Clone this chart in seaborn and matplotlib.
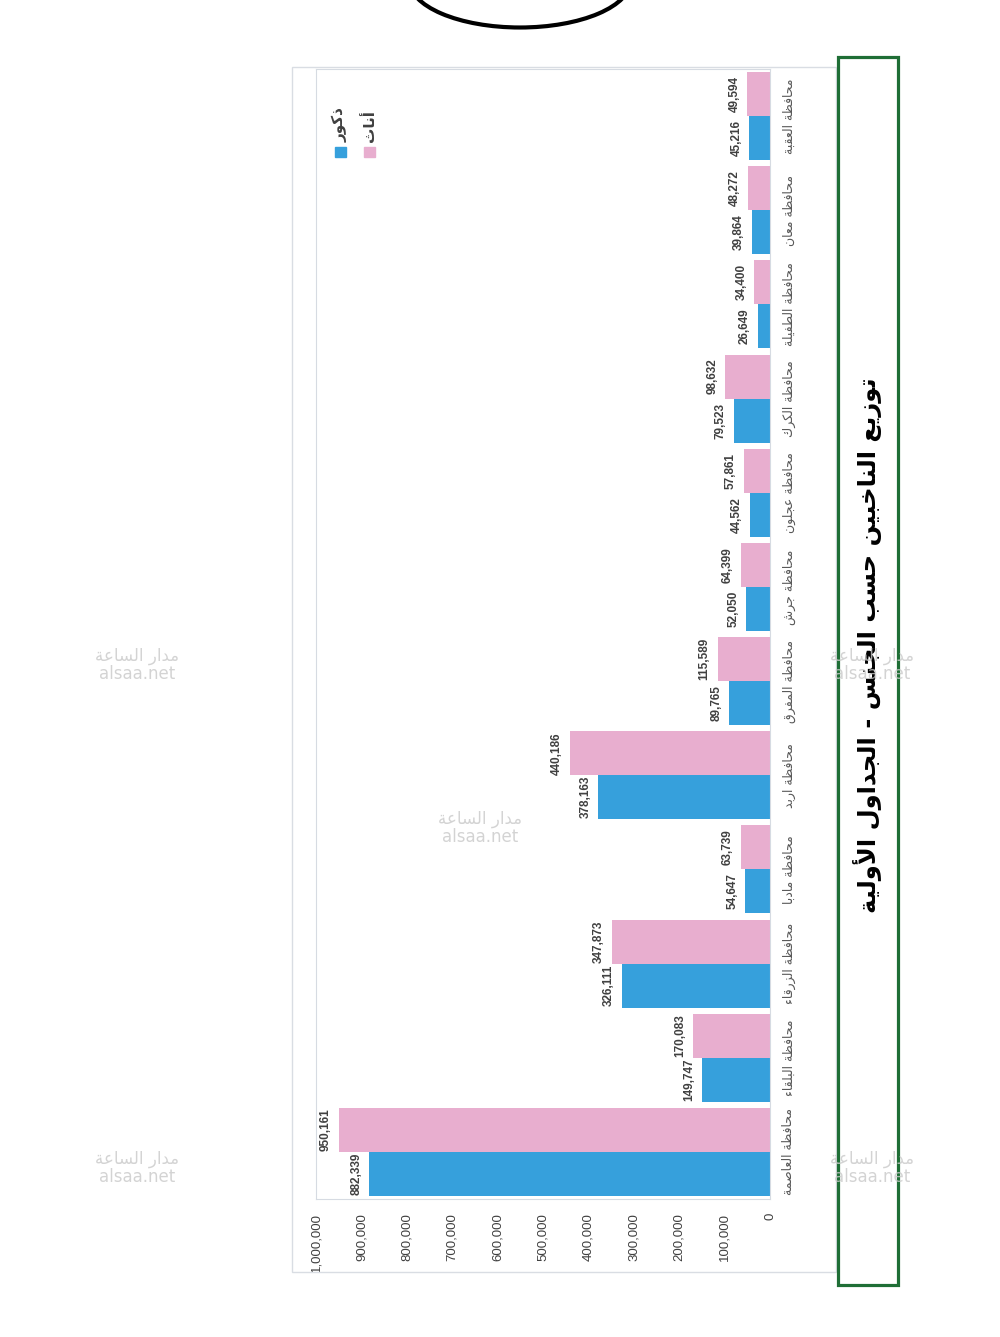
import matplotlib
matplotlib.use('Agg')
import matplotlib.pyplot as plt
from matplotlib.patches import Rectangle, Ellipse
import pandas as pd
import seaborn as sns

# data (left to right in the upright chart)
categories = ['محافظة العاصمة', 'محافظة البلقاء', 'محافظة الزرقاء', 'محافظة مادبا',
              'محافظة اربد', 'محافظة المفرق', 'محافظة جرش', 'محافظة عجلون',
              'محافظة الكرك', 'محافظة الطفيلة', 'محافظة معان', 'محافظة العقبة']
males = [882339, 149747, 326111, 54647, 378163, 89765, 52050, 44562, 79523, 26649, 39864, 45216]
females = [950161, 170083, 347873, 63739, 440186, 115589, 64399, 57861, 98632, 34400, 48272, 49594]
male_label = 'ذكور'
female_label = 'أناث'
xticks = [0, 100000, 200000, 300000, 400000, 500000, 600000, 700000, 800000, 900000, 1000000]
title = 'توزيع الناخبين حسب الجنس - الجداول الأولية'
watermark = 'مدار الساعة'

BLUE = '#36a0dc'
PINK = '#e8aecf'

# small arabic shaper: matplotlib has no shaping, so use presentation forms
FORMS = {'ء': (0xFE80, 1), 'آ': (0xFE81, 2), 'أ': (0xFE83, 2), 'ؤ': (0xFE85, 2), 'إ': (0xFE87, 2),
         'ئ': (0xFE89, 4), 'ا': (0xFE8D, 2), 'ب': (0xFE8F, 4), 'ة': (0xFE93, 2), 'ت': (0xFE95, 4),
         'ث': (0xFE99, 4), 'ج': (0xFE9D, 4), 'ح': (0xFEA1, 4), 'خ': (0xFEA5, 4), 'د': (0xFEA9, 2),
         'ذ': (0xFEAB, 2), 'ر': (0xFEAD, 2), 'ز': (0xFEAF, 2), 'س': (0xFEB1, 4), 'ش': (0xFEB5, 4),
         'ص': (0xFEB9, 4), 'ض': (0xFEBD, 4), 'ط': (0xFEC1, 4), 'ظ': (0xFEC5, 4), 'ع': (0xFEC9, 4),
         'غ': (0xFECD, 4), 'ف': (0xFED1, 4), 'ق': (0xFED5, 4), 'ك': (0xFED9, 4), 'ل': (0xFEDD, 4),
         'م': (0xFEE1, 4), 'ن': (0xFEE5, 4), 'ه': (0xFEE9, 4), 'و': (0xFEED, 2), 'ى': (0xFEEF, 2),
         'ي': (0xFEF1, 4)}
LAM_ALEF = {'آ': 0xFEF5, 'أ': 0xFEF7, 'إ': 0xFEF9, 'ا': 0xFEFB}


def shape(text):
    out = []
    i = 0
    while i < len(text):
        ch = text[i]
        if ch not in FORMS:
            out.append(ch)
            i += 1
            continue
        prev = text[i - 1] if i > 0 else ''
        joins_prev = prev in FORMS and FORMS[prev][1] == 4
        if ch == 'ل' and i + 1 < len(text) and text[i + 1] in LAM_ALEF:
            out.append(chr(LAM_ALEF[text[i + 1]] + int(joins_prev)))
            i += 2
            continue
        nxt = text[i + 1] if i + 1 < len(text) else ''
        start, n = FORMS[ch]
        joins_next = n == 4 and nxt in FORMS and FORMS[nxt][1] > 1
        if joins_prev and n > 1:
            form = 3 if joins_next else 1
        else:
            form = 2 if joins_next else 0
        out.append(chr(start + form))
        i += 1
    return ''.join(reversed(out))


df = pd.DataFrame({
    'category': categories * 2,
    'value': males + females,
    'gender': [male_label] * len(males) + [female_label] * len(females),
})

sns.set_style('white')
plt.rcParams['font.family'] = ['DejaVu Sans']

fig = plt.figure(figsize=(10, 13.37), dpi=100)
ax = fig.add_axes([0.316, 0.1032, 0.454, 0.8452])

# the chart is shown turned on its side: bars grow to the left, text reads upward
order = categories[::-1]
sns.barplot(data=df, y='category', x='value', hue='gender', order=order,
            hue_order=[female_label, male_label], palette={male_label: BLUE, female_label: PINK},
            width=0.934, orient='h', saturation=1, linewidth=0, legend=False, ax=ax)

ax.set_xlim(1000000, 0)
ax.set_ylim(len(order) - 0.5, -0.5)
ax.set_xticks(xticks)
ax.set_xticklabels([f'{t:,}' for t in xticks], rotation=90, fontsize=9.5,
                   color='#404040', family=['Liberation Sans', 'DejaVu Sans'])
ax.yaxis.tick_right()
ax.set_yticks(range(len(order)))
ax.set_yticklabels([shape(c) for c in order], rotation=90, fontsize=9, color='#595959',
                   va='center')
ax.tick_params(axis='both', length=0)
ax.tick_params(axis='x', pad=10)
ax.tick_params(axis='y', pad=9)
ax.set_xlabel('')
ax.set_ylabel('')
for s in ax.spines.values():
    s.set_color('#d6dbe2')
    s.set_linewidth(0.8)

for cont in ax.containers:
    ax.bar_label(cont, fmt='{:,.0f}', rotation=90, padding=5, fontsize=8.5, fontweight='bold',
                 color='#404040', family=['Liberation Sans', 'DejaVu Sans'])

# legend drawn by hand so its text can be turned too
for xpos, col, lab in [(0.053, BLUE, male_label), (0.117, PINK, female_label)]:
    ax.add_patch(Rectangle((xpos - 0.012, 0.9217), 0.024, 0.0097, transform=ax.transAxes,
                           color=col, clip_on=False))
    ax.text(xpos, 0.935, shape(lab), transform=ax.transAxes, rotation=90, ha='center',
            va='bottom', fontsize=11, fontweight='bold', color='#404040')

# chart frame, title box and page decoration
fig.add_artist(Rectangle((0.292, 0.0486), 0.544, 0.9013, transform=fig.transFigure,
                         fill=False, edgecolor='#d9dde3', linewidth=1))
fig.add_artist(Rectangle((0.838, 0.0389), 0.060, 0.9185, transform=fig.transFigure,
                         fill=False, edgecolor='#1f6e36', linewidth=2.3))
fig.text(0.868, 1 - 645 / 1337, shape(title), rotation=90, ha='center', va='center',
         fontsize=17.5, fontweight='bold', color='black')
fig.add_artist(Ellipse((0.52, 1 + 20 / 1337), 0.222, 95 / 1337, transform=fig.transFigure,
                       fill=False, edgecolor='black', linewidth=3))

for wx, wy in [(137, 665), (480, 828), (872, 665), (137, 1168), (872, 1168)]:
    fig.text(wx / 1000, 1 - wy / 1337, shape(watermark) + '\nalsaa.net', ha='center',
             va='center', fontsize=12, color='#c9c9c9', alpha=0.8, linespacing=1.0)

fig.savefig('out.png', dpi=100)
